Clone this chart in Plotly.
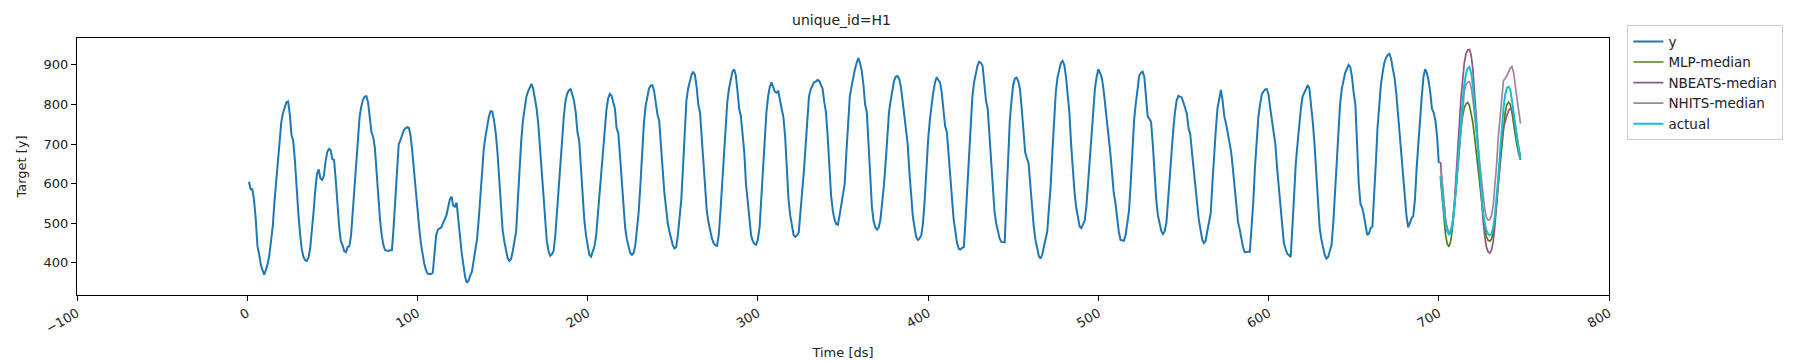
import plotly.graph_objects as go

# ---- data ----
y_values = [
    605, 586, 586, 559, 511, 443, 422, 395, 382, 370, 383, 397, 420, 455, 493, 554, 610, 666, 715, 755, 778, 794, 806, 808,
    776, 723, 709, 660, 585, 527, 476, 436, 416, 407, 405, 413, 437, 480, 530, 585, 625, 636, 614, 610, 620, 655, 680, 688,
    685, 662, 660, 610, 545, 492, 455, 445, 430, 427, 440, 442, 470, 530, 600, 670, 725, 768, 795, 812, 820, 821, 805, 770,
    730, 718, 690, 630, 565, 510, 470, 445, 432, 430, 430, 432, 432, 490, 570, 640, 700, 710, 722, 735, 740, 743, 741, 720,
    680, 630, 570, 520, 490, 450, 420, 398, 382, 373, 372, 372, 375, 420, 470, 484, 487, 490, 500, 510, 520, 540, 560, 568,
    545, 542, 552, 510, 460, 425, 395, 365, 350, 355, 368, 378, 405, 435, 460, 510, 580, 640, 690, 720, 750, 770, 783, 782,
    760, 728, 680, 610, 540, 485, 455, 430, 412, 405, 410, 430, 455, 480, 560, 640, 710, 760, 795, 820, 833, 845, 852, 840,
    818, 790, 750, 690, 620, 550, 495, 455, 430, 418, 422, 430, 470, 530, 600, 660, 720, 770, 810, 828, 836, 839, 825, 808,
    780, 730, 710, 640, 570, 510, 470, 440, 420, 416, 430, 442, 470, 520, 580, 640, 680, 740, 785, 815, 827, 822, 808, 790,
    740, 728, 670, 600, 540, 490, 460, 440, 425, 420, 425, 445, 480, 530, 600, 680, 750, 795, 822, 840, 848, 849, 835, 805,
    775, 760, 710, 640, 580, 535, 502, 480, 460, 445, 437, 440, 470, 520, 560, 640, 740, 810, 840, 860, 875, 883, 875, 845,
    800, 780, 720, 650, 580, 530, 502, 480, 462, 450, 445, 443, 470, 530, 600, 690, 760, 805, 840, 865, 882, 889, 875, 835,
    790, 770, 727, 680, 600, 552, 500, 470, 455, 448, 446, 460, 490, 560, 640, 720, 780, 820, 845, 856, 845, 832, 830, 835,
    810, 790, 768, 720, 630, 560, 520, 490, 470, 466, 470, 477, 520, 580, 630, 700, 770, 820, 838, 848, 856, 858, 862, 860,
    852, 840, 806, 780, 720, 650, 570, 532, 510, 498, 496, 520, 550, 575, 600, 680, 760, 820, 845, 870, 889, 905, 917, 905,
    885, 850, 800, 780, 700, 610, 540, 505, 490, 484, 490, 510, 550, 594, 650, 720, 780, 810, 840, 860, 870, 872, 865, 845,
    810, 775, 750, 700, 630, 560, 519, 490, 465, 458, 462, 470, 500, 560, 640, 710, 760, 800, 830, 855, 869, 862, 856, 830,
    780, 745, 731, 680, 610, 560, 510, 480, 450, 436, 434, 438, 440, 510, 594, 680, 760, 820, 856, 880, 898, 908, 905, 898,
    860, 810, 790, 720, 640, 570, 530, 500, 480, 462, 453, 452, 452, 560, 680, 760, 810, 850, 866, 868, 858, 838, 790, 730,
    680, 665, 652, 600, 545, 494, 460, 435, 418, 411, 420, 440, 460, 480, 540, 594, 680, 760, 830, 868, 890, 905, 910, 900,
    870, 827, 780, 700, 630, 580, 540, 510, 492, 488, 500, 507, 544, 600, 680, 719, 790, 840, 870, 889, 880, 868, 840, 800,
    760, 735, 680, 630, 580, 552, 510, 480, 458, 456, 456, 470, 495, 530, 600, 680, 760, 802, 840, 872, 880, 883, 870, 820,
    770, 764, 755, 700, 620, 560, 520, 495, 480, 473, 480, 502, 560, 620, 690, 735, 780, 810, 822, 820, 818, 805, 790, 777,
    740, 725, 680, 630, 580, 552, 510, 480, 460, 450, 455, 480, 505, 525, 600, 680, 735, 790, 820, 837, 810, 770, 752, 730,
    700, 681, 640, 590, 540, 505, 486, 460, 440, 427, 428, 428, 428, 480, 552, 640, 720, 768, 800, 825, 833, 838, 839, 825,
    790, 760, 743, 700, 640, 595, 540, 490, 450, 435, 423, 420, 415, 490, 580, 650, 700, 750, 790, 820, 830, 838, 849, 840,
    800, 755, 700, 630, 550, 490, 460, 440, 420, 411, 415, 430, 445, 500, 580, 660, 740, 800, 839, 860, 880, 890, 900, 895,
    870, 830, 800, 700, 600, 548, 540, 520, 490, 470, 475, 488, 492, 560, 650, 740, 810, 850, 880, 905, 918, 925, 928, 915,
    890, 868, 830, 780, 720, 668, 610, 560, 520, 490, 504, 512, 519, 560, 640, 710, 752, 820, 870, 889, 880, 860, 830, 789,
    780, 760, 720, 652,
]
y_ds = list(range(1, len(y_values) + 1))

fc_ds = list(range(701, 749))
mlp_median = [
    615, 560, 510, 470, 448, 441, 455, 485, 530, 585, 640, 690, 735, 770, 792, 802, 805, 798, 780, 755, 720, 680, 635, 590,
    548, 512, 485, 466, 457, 455, 460, 478, 508, 550, 600, 650, 700, 745, 780, 800, 806, 800, 780, 750, 720, 695, 675, 660,
]
nbeats_median = [
    655, 600, 545, 505, 482, 472, 478, 500, 540, 600, 670, 745, 815, 870, 905, 928, 938, 939, 925, 890, 835, 770, 700, 630,
    565, 510, 468, 440, 428, 425, 432, 455, 495, 550, 610, 665, 715, 740, 758, 772, 785, 790, 785, 770, 745, 715, 690, 670,
]
nhits_median = [
    640, 590, 545, 510, 488, 478, 482, 500, 535, 585, 640, 700, 755, 800, 833, 850, 856, 858, 845, 815, 775, 730, 685, 640,
    598, 562, 535, 515, 508, 510, 520, 545, 590, 650, 720, 770, 815, 860, 866, 872, 882, 892, 896, 880, 845, 810, 780, 752,
]
actual = [
    620, 570, 530, 500, 480, 472, 475, 495, 530, 580, 640, 700, 760, 810, 850, 878, 892, 895, 880, 850, 800, 745, 690, 630,
    575, 530, 500, 482, 473, 470, 474, 490, 520, 565, 620, 680, 740, 790, 825, 842, 845, 838, 810, 775, 740, 710, 685, 663,
]

x_ticks = [-100, 0, 100, 200, 300, 400, 500, 600, 700, 800]
x_tick_labels = ["\u2212100", "0", "100", "200", "300", "400", "500", "600", "700", "800"]
y_ticks = [400, 500, 600, 700, 800, 900]

# ---- figure ----
FONT = "DejaVu Sans"
fig = go.Figure()
series = [
    ("y", y_ds, y_values, "#1f77b4", 2.0),
    ("MLP-median", fc_ds, mlp_median, "#4e7f1e", 1.7),
    ("NBEATS-median", fc_ds, nbeats_median, "#8f5587", 1.7),
    ("NHITS-median", fc_ds, nhits_median, "#a3849f", 1.7),
    ("actual", fc_ds, actual, "#17becf", 2.0),
]
for name, xs, ys, color, w in series:
    fig.add_trace(go.Scatter(x=xs, y=ys, mode="lines", name=name,
                             line=dict(color=color, width=w)))

axis_common = dict(showline=True, linecolor="black", linewidth=1, mirror=True,
                   ticks="outside", ticklen=5, tickcolor="black", showgrid=False,
                   zeroline=False, tickfont=dict(family=FONT, size=13, color="#222"))

fig.update_layout(
    width=1800, height=361,
    margin=dict(l=66, r=199, t=30, b=71),
    paper_bgcolor="white", plot_bgcolor="white",
    font=dict(family=FONT, size=13, color="#222"),
    title=dict(text="unique_id=H1", x=(66 + 1601) / 2 / 1800, xanchor="center",
               y=1 - 12 / 361, yanchor="middle", font=dict(family=FONT, size=14, color="#222")),
    xaxis=dict(range=[-100, 800], tickvals=x_ticks, ticktext=x_tick_labels, tickangle=-30,
               title=dict(text="Time [ds]", font=dict(family=FONT, size=13), standoff=12),
               **axis_common),
    yaxis=dict(range=[319, 968], tickvals=y_ticks,
               title=dict(text="Target [y]", font=dict(family=FONT, size=13), standoff=14),
               **axis_common),
    legend=dict(x=1.012, y=1.05, xanchor="left", yanchor="top",
                bordercolor="#cccccc", borderwidth=1, bgcolor="white",
                font=dict(family=FONT, size=13.5, color="#222"),
                tracegroupgap=0, itemwidth=30),
    showlegend=True,
)

fig.write_html("out.html")
